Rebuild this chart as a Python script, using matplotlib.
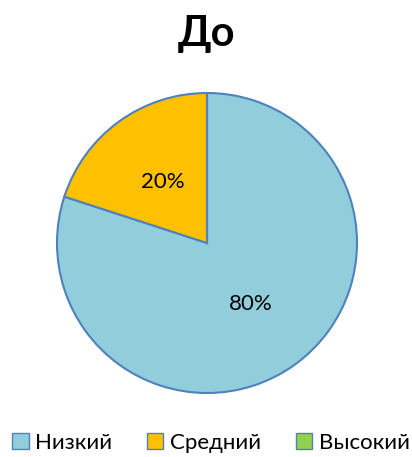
import matplotlib
matplotlib.use("Agg")
import matplotlib.pyplot as plt

categories = ["Низкий", "Средний", "Высокий"]
values = [80, 20, 0]
colors = ["#92CDDC", "#FFC000", "#92D050"]
title = "До"

plt.rcParams['font.family'] = ['Lato', 'DejaVu Sans']

W, H = 412, 457
fig = plt.figure(figsize=(W / 100, H / 100), dpi=100)

cx, cy, r = 207, 243, 150
ax = fig.add_axes([(cx - r) / W, (H - cy - r) / H, 2 * r / W, 2 * r / H])


def pct(p):
    return f"{p:.0f}%" if p > 0.5 else ""


wedges, texts, autotexts = ax.pie(
    values, colors=colors, startangle=90, counterclock=False,
    autopct=pct, pctdistance=0.5,
    wedgeprops=dict(edgecolor="#4F81BD", linewidth=1.5),
    textprops=dict(fontsize=16, color="black"),
)
for w in wedges:
    w.set_clip_on(False)
ax.set_xlim(-1, 1)
ax.set_ylim(-1, 1)
ax.set_aspect("equal")
ax.axis("off")

fig.text(0.5, 1 - 34 / H, title, ha="center", va="center",
         fontsize=30, fontweight="bold")

handles = [plt.Rectangle((0, 0), 1, 1, facecolor=c, edgecolor="#4F81BD", linewidth=1)
           for c in colors]
fig.legend(handles, categories, loc="center", bbox_to_anchor=(0.512, 1 - 443 / H),
           ncol=3, frameon=False, fontsize=16, handlelength=0.75, handleheight=0.75,
           handletextpad=0.3, columnspacing=1.55, borderpad=0, borderaxespad=0)

fig.savefig("out.png", dpi=100)
